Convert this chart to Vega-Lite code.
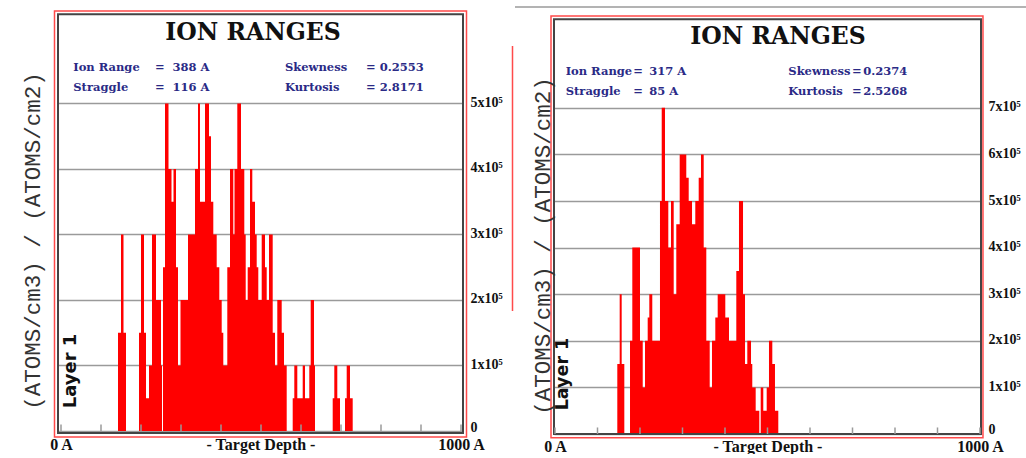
{
  "$schema": "https://vega.github.io/schema/vega-lite/v6.json",
  "background": "white",
  "padding": 0,
  "spacing": 91,
  "bounds": "flush",
  "config": {
    "view": {"stroke": null},
    "axis": {"zindex": 1}
  },
  "datasets": {
    "ticks": [
      {"depth": 0}, {"depth": 100}, {"depth": 200}, {"depth": 300}, {"depth": 400}, {"depth": 500},
      {"depth": 600}, {"depth": 700}, {"depth": 800}, {"depth": 900}, {"depth": 1000}
    ],
    "run1": [
      {"depth": 142.5, "conc": 150000}, {"depth": 150, "conc": 300000}, {"depth": 156.25, "conc": 150000}, {"depth": 162.5, "conc": 0},
      {"depth": 195, "conc": 150000}, {"depth": 200, "conc": 300000}, {"depth": 207.5, "conc": 150000}, {"depth": 212.5, "conc": 50000},
      {"depth": 220, "conc": 100000}, {"depth": 227.5, "conc": 300000}, {"depth": 237.5, "conc": 200000}, {"depth": 250, "conc": 100000},
      {"depth": 252.5, "conc": 0},
      {"depth": 255, "conc": 250000}, {"depth": 260, "conc": 500000}, {"depth": 268.75, "conc": 400000}, {"depth": 276.25, "conc": 350000},
      {"depth": 281.25, "conc": 400000}, {"depth": 287.5, "conc": 250000}, {"depth": 292.5, "conc": 100000}, {"depth": 298.75, "conc": 200000},
      {"depth": 317.5, "conc": 300000}, {"depth": 335, "conc": 400000}, {"depth": 342.5, "conc": 500000}, {"depth": 347.5, "conc": 350000},
      {"depth": 360, "conc": 500000}, {"depth": 370, "conc": 450000}, {"depth": 375, "conc": 350000}, {"depth": 380.75, "conc": 300000},
      {"depth": 389.25, "conc": 250000}, {"depth": 395.75, "conc": 200000}, {"depth": 401.75, "conc": 150000}, {"depth": 405.75, "conc": 100000},
      {"depth": 415.75, "conc": 250000}, {"depth": 422.5, "conc": 400000}, {"depth": 430.75, "conc": 300000}, {"depth": 433.75, "conc": 400000},
      {"depth": 440.75, "conc": 500000}, {"depth": 450, "conc": 400000}, {"depth": 458.25, "conc": 300000}, {"depth": 461.75, "conc": 200000},
      {"depth": 466.75, "conc": 250000}, {"depth": 472.5, "conc": 400000}, {"depth": 478.25, "conc": 350000}, {"depth": 485, "conc": 300000},
      {"depth": 489.25, "conc": 250000}, {"depth": 493.25, "conc": 200000}, {"depth": 501.75, "conc": 300000}, {"depth": 510, "conc": 250000},
      {"depth": 514.25, "conc": 200000}, {"depth": 520, "conc": 300000}, {"depth": 529.25, "conc": 150000}, {"depth": 535, "conc": 100000},
      {"depth": 540.75, "conc": 200000}, {"depth": 551.75, "conc": 150000}, {"depth": 557.5, "conc": 100000}, {"depth": 564.25, "conc": 0},
      {"depth": 579.25, "conc": 50000}, {"depth": 583.25, "conc": 100000}, {"depth": 590.75, "conc": 50000}, {"depth": 604.25, "conc": 100000},
      {"depth": 610, "conc": 50000}, {"depth": 620.75, "conc": 100000}, {"depth": 624.25, "conc": 200000}, {"depth": 632.5, "conc": 100000},
      {"depth": 635, "conc": 0},
      {"depth": 679.25, "conc": 50000}, {"depth": 683.25, "conc": 100000}, {"depth": 690.75, "conc": 50000}, {"depth": 697.5, "conc": 0},
      {"depth": 710, "conc": 50000}, {"depth": 714.25, "conc": 100000}, {"depth": 722.5, "conc": 50000}, {"depth": 729.25, "conc": 0}
    ],
    "run2": [
      {"depth": 146.6, "conc": 150000}, {"depth": 152.2, "conc": 300000}, {"depth": 156.9, "conc": 150000}, {"depth": 163.1, "conc": 0},
      {"depth": 176.5, "conc": 200000}, {"depth": 181.9, "conc": 400000}, {"depth": 200, "conc": 200000}, {"depth": 206.4, "conc": 100000},
      {"depth": 211.8, "conc": 200000}, {"depth": 218.1, "conc": 250000}, {"depth": 221.9, "conc": 300000}, {"depth": 228.9, "conc": 200000},
      {"depth": 247, "conc": 500000}, {"depth": 251.1, "conc": 700000}, {"depth": 258.8, "conc": 500000}, {"depth": 266.6, "conc": 400000},
      {"depth": 272.9, "conc": 500000}, {"depth": 279.3, "conc": 300000}, {"depth": 285.4, "conc": 450000}, {"depth": 293.4, "conc": 600000},
      {"depth": 308.9, "conc": 550000}, {"depth": 314.6, "conc": 500000}, {"depth": 322.4, "conc": 450000}, {"depth": 330.1, "conc": 500000},
      {"depth": 338.1, "conc": 550000}, {"depth": 343.5, "conc": 600000}, {"depth": 349.9, "conc": 400000}, {"depth": 356, "conc": 200000},
      {"depth": 364, "conc": 100000}, {"depth": 369.4, "conc": 200000}, {"depth": 377.2, "conc": 250000}, {"depth": 382.8, "conc": 300000},
      {"depth": 400.7, "conc": 250000}, {"depth": 409.4, "conc": 200000}, {"depth": 426.6, "conc": 350000}, {"depth": 432.9, "conc": 500000},
      {"depth": 442.4, "conc": 300000}, {"depth": 447.1, "conc": 150000}, {"depth": 452.5, "conc": 200000}, {"depth": 461.2, "conc": 150000},
      {"depth": 464.2, "conc": 100000}, {"depth": 472.2, "conc": 50000}, {"depth": 480.7, "conc": 0},
      {"depth": 484, "conc": 100000}, {"depth": 490.1, "conc": 50000}, {"depth": 498.1, "conc": 100000}, {"depth": 503.5, "conc": 200000},
      {"depth": 511.3, "conc": 150000}, {"depth": 517.6, "conc": 50000}, {"depth": 525.4, "conc": 0}
    ]
  },
  "hconcat": [
    {
      "width": 405,
      "height": 421,
      "resolve": {"axis": {"x": "independent", "y": "independent"}},
      "layer": [
        {
          "data": {"values": [{}]},
          "mark": {"type": "rect", "opacity": 0},
          "encoding": {
            "x": {"datum": -152.5, "axis": null},
            "x2": {"datum": -140},
            "y": {"datum": 656489, "axis": null},
            "y2": {"datum": 640000}
          }
        },
        {
          "data": {"name": "run1"},
          "mark": {"type": "area", "interpolate": "step-after", "color": "#ff0000"},
          "encoding": {
            "x": {
              "field": "depth", "type": "quantitative",
              "scale": {"domain": [-7.5, 1005], "nice": false, "zero": false},
              "axis": {
                "values": [0, 1000],
                "labelExpr": "datum.value === 0 ? '0 A' : '1000 A'",
                "domain": false, "ticks": false, "grid": false,
                "labelPadding": 14.3, "labelBaseline": "alphabetic",
                "labelFont": "Liberation Serif", "labelFontWeight": "bold", "labelFontSize": 16, "labelColor": "#111",
                "labelFlush": false,
                "title": "- Target Depth -",
                "titleFont": "Liberation Serif", "titleFontWeight": "bold", "titleFontSize": 16, "titleColor": "#111",
                "titleBaseline": "alphabetic", "titleY": 14.3
              }
            },
            "y": {
              "field": "conc", "type": "quantitative",
              "scale": {"domain": [-6107, 636641], "nice": false, "zero": false},
              "axis": {
                "orient": "right",
                "values": [0, 100000, 200000, 300000, 400000, 500000],
                "labelExpr": "datum.value === 0 ? '0' : round(datum.value / 100000) + 'x10⁵'",
                "grid": true, "gridColor": "#9a9a9a", "gridWidth": 1.5,
                "domain": false, "ticks": false,
                "labelPadding": 7, "labelAlign": "left", "labelFlush": false,
                "labelOffset": {"condition": {"test": "datum.value === 0", "value": -3}, "value": -1},
                "labelFont": "Liberation Serif", "labelFontWeight": "bold", "labelFontSize": 14, "labelColor": "#111",
                "title": null
              }
            },
            "y2": {"datum": 0}
          }
        },
        {
          "data": {"values": [{}]},
          "mark": {"type": "rect", "filled": false, "stroke": "#ff4a4a", "strokeWidth": 1.5},
          "encoding": {
            "x": {"datum": -16.25, "axis": null},
            "x2": {"datum": 1013.75},
            "y": {"datum": 641221, "axis": null},
            "y2": {"datum": -9160}
          }
        },
        {
          "data": {"values": [{}]},
          "mark": {"type": "rule", "color": "#ff4a4a", "strokeWidth": 1.5},
          "encoding": {
            "x": {"datum": 1128.75, "axis": null},
            "y": {"datum": 587786, "axis": null},
            "y2": {"datum": 183206}
          }
        },
        {
          "data": {"values": [{}]},
          "mark": {"type": "rect", "filled": false, "stroke": "#444444", "strokeWidth": 2},
          "encoding": {
            "x": {"datum": -7.5, "axis": null},
            "x2": {"datum": 1005},
            "y": {"datum": 636183, "axis": null},
            "y2": {"datum": -3053}
          }
        },
        {
          "data": {"name": "ticks"},
          "mark": {"type": "rule", "color": "#9a9a9a", "strokeWidth": 1.5},
          "encoding": {
            "x": {"field": "depth", "type": "quantitative", "axis": null},
            "y": {"datum": 0, "axis": null},
            "y2": {"datum": 10000}
          }
        },
        {
          "data": {"values": [{}]},
          "mark": {"type": "text", "text": "ION RANGES", "font": "DejaVu Serif", "fontWeight": "bold", "fontSize": 23.5, "align": "center", "baseline": "alphabetic", "color": "#111"},
          "encoding": {"x": {"datum": 480, "axis": null}, "y": {"datum": 596489, "axis": null}}
        },
        {
          "data": {"values": [{}]},
          "mark": {"type": "text", "text": "Ion Range\nStraggle", "lineBreak": "\n", "lineHeight": 20, "font": "DejaVu Serif", "fontWeight": "bold", "fontSize": 11.5, "align": "left", "baseline": "alphabetic", "color": "#2a2a86"},
          "encoding": {"x": {"datum": 30.75, "axis": null}, "y": {"datum": 549618, "axis": null}}
        },
        {
          "data": {"values": [{}]},
          "mark": {"type": "text", "text": "=\n=", "lineBreak": "\n", "lineHeight": 20, "font": "DejaVu Serif", "fontWeight": "bold", "fontSize": 11.5, "align": "left", "baseline": "alphabetic", "color": "#2a2a86"},
          "encoding": {"x": {"datum": 235, "axis": null}, "y": {"datum": 549618, "axis": null}}
        },
        {
          "data": {"values": [{}]},
          "mark": {"type": "text", "text": "388 A\n116 A", "lineBreak": "\n", "lineHeight": 20, "font": "DejaVu Serif", "fontWeight": "bold", "fontSize": 11.5, "align": "left", "baseline": "alphabetic", "color": "#2a2a86"},
          "encoding": {"x": {"datum": 279, "axis": null}, "y": {"datum": 549618, "axis": null}}
        },
        {
          "data": {"values": [{}]},
          "mark": {"type": "text", "text": "Skewness\nKurtosis", "lineBreak": "\n", "lineHeight": 20, "font": "DejaVu Serif", "fontWeight": "bold", "fontSize": 11.5, "align": "left", "baseline": "alphabetic", "color": "#2a2a86"},
          "encoding": {"x": {"datum": 560, "axis": null}, "y": {"datum": 549618, "axis": null}}
        },
        {
          "data": {"values": [{}]},
          "mark": {"type": "text", "text": "= 0.2553\n= 2.8171", "lineBreak": "\n", "lineHeight": 20, "font": "DejaVu Serif", "fontWeight": "bold", "fontSize": 11.5, "align": "left", "baseline": "alphabetic", "color": "#2a2a86"},
          "encoding": {"x": {"datum": 762.5, "axis": null}, "y": {"datum": 549618, "axis": null}}
        },
        {
          "data": {"values": [{}]},
          "mark": {"type": "text", "text": "Layer 1", "angle": 270, "font": "DejaVu Sans", "fontWeight": "bold", "fontSize": 18, "align": "center", "baseline": "middle", "color": "#111"},
          "encoding": {"x": {"datum": 23.75, "axis": null}, "y": {"datum": 91603, "axis": null}}
        },
        {
          "data": {"values": [{}]},
          "mark": {"type": "text", "text": "(ATOMS/cm3) / (ATOMS/cm2)", "angle": 270, "font": "Liberation Mono", "fontSize": 22.5, "align": "center", "baseline": "middle", "color": "#333"},
          "encoding": {"x": {"datum": -70, "axis": null}, "y": {"datum": 290076, "axis": null}}
        }
      ]
    },
    {
      "width": 427,
      "height": 421,
      "resolve": {"axis": {"x": "independent", "y": "independent"}},
      "layer": [
        {
          "data": {"values": [{}]},
          "mark": {"type": "rule", "color": "#9a9a9a", "strokeWidth": 1.5},
          "encoding": {
            "x": {"datum": -94.1, "axis": null},
            "x2": {"datum": 1108.2},
            "y": {"datum": 916309, "axis": null}
          }
        },
        {
          "data": {"name": "run2"},
          "mark": {"type": "area", "interpolate": "step-after", "color": "#ff0000"},
          "encoding": {
            "x": {
              "field": "depth", "type": "quantitative",
              "scale": {"domain": [-2.35, 1002.35], "nice": false, "zero": false},
              "axis": {
                "values": [0, 1000],
                "labelExpr": "datum.value === 0 ? '0 A' : '1000 A'",
                "domain": false, "ticks": false, "grid": false,
                "labelPadding": 16, "labelBaseline": "alphabetic",
                "labelFont": "Liberation Serif", "labelFontWeight": "bold", "labelFontSize": 16, "labelColor": "#111",
                "labelFlush": false,
                "title": "- Target Depth -",
                "titleFont": "Liberation Serif", "titleFontWeight": "bold", "titleFontSize": 16, "titleColor": "#111",
                "titleBaseline": "alphabetic", "titleY": 16
              }
            },
            "y": {
              "field": "conc", "type": "quantitative",
              "scale": {"domain": [-2146, 901288], "nice": false, "zero": false},
              "axis": {
                "orient": "right",
                "values": [0, 100000, 200000, 300000, 400000, 500000, 600000, 700000],
                "labelExpr": "datum.value === 0 ? '0' : round(datum.value / 100000) + 'x10⁵'",
                "grid": true, "gridColor": "#9a9a9a", "gridWidth": 1.5,
                "domain": false, "ticks": false,
                "labelPadding": 7, "labelAlign": "left", "labelFlush": false,
                "labelOffset": {"condition": {"test": "datum.value === 0", "value": -4}, "value": -1},
                "labelFont": "Liberation Serif", "labelFontWeight": "bold", "labelFontSize": 14, "labelColor": "#111",
                "title": null
              }
            },
            "y2": {"datum": 0}
          }
        },
        {
          "data": {"values": [{}]},
          "mark": {"type": "rect", "filled": false, "stroke": "#ff4a4a", "strokeWidth": 1.5},
          "encoding": {
            "x": {"datum": -9.4, "axis": null},
            "x2": {"datum": 1007},
            "y": {"datum": 897000, "axis": null},
            "y2": {"datum": -7940}
          }
        },
        {
          "data": {"values": [{}]},
          "mark": {"type": "rect", "filled": false, "stroke": "#444444", "strokeWidth": 2},
          "encoding": {
            "x": {"datum": -2.35, "axis": null},
            "x2": {"datum": 1002.35},
            "y": {"datum": 889914, "axis": null},
            "y2": {"datum": 0}
          }
        },
        {
          "data": {"name": "ticks"},
          "mark": {"type": "rule", "color": "#9a9a9a", "strokeWidth": 1.5},
          "encoding": {
            "x": {"field": "depth", "type": "quantitative", "axis": null},
            "y": {"datum": 0, "axis": null},
            "y2": {"datum": 14000}
          }
        },
        {
          "data": {"values": [{}]},
          "mark": {"type": "text", "text": "ION RANGES", "font": "DejaVu Serif", "fontWeight": "bold", "fontSize": 23.5, "align": "center", "baseline": "alphabetic", "color": "#111"},
          "encoding": {"x": {"datum": 524.7, "axis": null}, "y": {"datum": 837554, "axis": null}}
        },
        {
          "data": {"values": [{}]},
          "mark": {"type": "text", "text": "Ion Range\nStraggle", "lineBreak": "\n", "lineHeight": 20, "font": "DejaVu Serif", "fontWeight": "bold", "fontSize": 11.5, "align": "left", "baseline": "alphabetic", "color": "#2a2a86"},
          "encoding": {"x": {"datum": 25.2, "axis": null}, "y": {"datum": 770386, "axis": null}}
        },
        {
          "data": {"values": [{}]},
          "mark": {"type": "text", "text": "=\n=", "lineBreak": "\n", "lineHeight": 20, "font": "DejaVu Serif", "fontWeight": "bold", "fontSize": 11.5, "align": "left", "baseline": "alphabetic", "color": "#2a2a86"},
          "encoding": {"x": {"datum": 184.2, "axis": null}, "y": {"datum": 770386, "axis": null}}
        },
        {
          "data": {"values": [{}]},
          "mark": {"type": "text", "text": "317 A\n85 A", "lineBreak": "\n", "lineHeight": 20, "font": "DejaVu Serif", "fontWeight": "bold", "fontSize": 11.5, "align": "left", "baseline": "alphabetic", "color": "#2a2a86"},
          "encoding": {"x": {"datum": 221.9, "axis": null}, "y": {"datum": 770386, "axis": null}}
        },
        {
          "data": {"values": [{}]},
          "mark": {"type": "text", "text": "Skewness\nKurtosis", "lineBreak": "\n", "lineHeight": 20, "font": "DejaVu Serif", "fontWeight": "bold", "fontSize": 11.5, "align": "left", "baseline": "alphabetic", "color": "#2a2a86"},
          "encoding": {"x": {"datum": 549, "axis": null}, "y": {"datum": 770386, "axis": null}}
        },
        {
          "data": {"values": [{}]},
          "mark": {"type": "text", "text": "=\n=", "lineBreak": "\n", "lineHeight": 20, "font": "DejaVu Serif", "fontWeight": "bold", "fontSize": 11.5, "align": "left", "baseline": "alphabetic", "color": "#2a2a86"},
          "encoding": {"x": {"datum": 699, "axis": null}, "y": {"datum": 770386, "axis": null}}
        },
        {
          "data": {"values": [{}]},
          "mark": {"type": "text", "text": "0.2374\n2.5268", "lineBreak": "\n", "lineHeight": 20, "font": "DejaVu Serif", "fontWeight": "bold", "fontSize": 11.5, "align": "left", "baseline": "alphabetic", "color": "#2a2a86"},
          "encoding": {"x": {"datum": 725, "axis": null}, "y": {"datum": 770386, "axis": null}}
        },
        {
          "data": {"values": [{}]},
          "mark": {"type": "text", "text": "Layer 1", "angle": 270, "font": "DejaVu Sans", "fontWeight": "bold", "fontSize": 17.5, "align": "center", "baseline": "middle", "color": "#111"},
          "encoding": {"x": {"datum": 18.8, "axis": null}, "y": {"datum": 128755, "axis": null}}
        },
        {
          "data": {"values": [{}]},
          "mark": {"type": "text", "text": "(ATOMS/cm3) / (ATOMS/cm2)", "angle": 270, "font": "Liberation Mono", "fontSize": 22.5, "align": "center", "baseline": "middle", "color": "#333"},
          "encoding": {"x": {"datum": -28.2, "axis": null}, "y": {"datum": 403433, "axis": null}}
        }
      ]
    }
  ]
}
